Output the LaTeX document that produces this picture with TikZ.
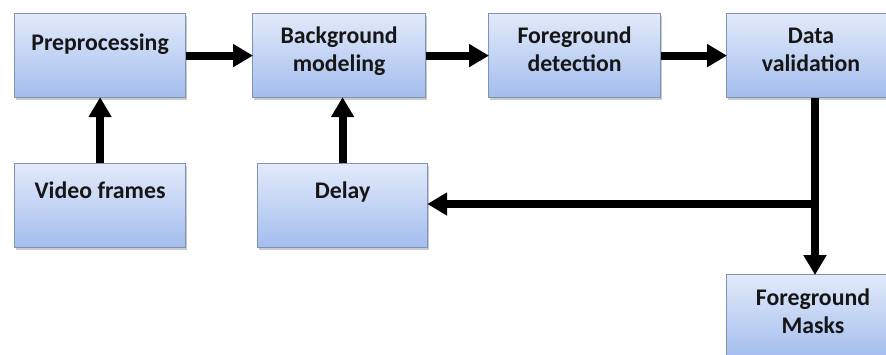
\documentclass[tikz,border=0pt]{standalone}
\usepackage{fontspec}
\setmainfont{Carlito}
\usetikzlibrary{arrows.meta,shadows,calc}
\definecolor{boxtop}{HTML}{E2EAFA}
\definecolor{boxbot}{HTML}{A3BDEE}
\definecolor{boxline}{HTML}{7F93B3}
\definecolor{txt}{HTML}{161616}
\tikzset{
  x=1pt, y=-1pt,
  stage/.style={draw=boxline, line width=1.2pt, top color=boxtop, bottom color=boxbot,
    minimum width=171pt, minimum height=84pt, inner sep=0pt, anchor=north west,
    drop shadow={opacity=0.35, shadow xshift=1pt, shadow yshift=-2pt, fill=black!60}},
  lbl/.style={anchor=base, inner sep=0pt, text=txt,
    font=\fontsize{23.8}{28}\selectfont\bfseries},
  flow/.style={line width=8pt, draw=black,
    -{Triangle[length=20pt, width=22pt]}, shorten >=-1pt},
}
\begin{document}
\begin{tikzpicture}
\clip (0,0) rectangle (886,354);
\useasboundingbox (0,0) rectangle (886,354);

% processing stages
\node[stage] (pre)   at (14,13)  {};
\node[stage, minimum width=173pt] (bg) at (252,13) {};
\node[stage, minimum width=172pt] (fd) at (488,13) {};
\node[stage, minimum width=190pt] (dv) at (726,13) {};
\node[stage] (video) at (14,163) {};
\node[stage, minimum width=170pt] (delay) at (257,163) {};
\node[stage, minimum width=190pt] (masks) at (726,274) {};

% stage labels
\node[lbl] (pre-l)    at ($(pre.north)+(0,37)$)    {Preprocessing};
\node[lbl] (bg-l1)    at ($(bg.north)+(0,30)$)     {Background};
\node[lbl] (bg-l2)    at ($(bg.north)+(0,58)$)     {modeling};
\node[lbl] (fd-l1)    at ($(fd.north)+(0,30)$)     {Foreground};
\node[lbl] (fd-l2)    at ($(fd.north)+(0,58)$)     {detection};
\node[lbl] (dv-l1)    at ($(dv.north west)+(85,30)$) {Data};
\node[lbl] (dv-l2)    at ($(dv.north west)+(85,58)$) {validation};
\node[lbl] (video-l)  at ($(video.north)+(0,35)$)  {Video frames};
\node[lbl] (delay-l)  at ($(delay.north)+(0,35)$)  {Delay};
\node[lbl] (masks-l1) at ($(masks.north west)+(87,31)$) {Foreground};
\node[lbl] (masks-l2) at ($(masks.north west)+(87,59)$) {Masks};

% data flow
\coordinate (split) at (815,204);
\draw[flow] (pre.east) -- (bg.west);
\draw[flow] (bg.east) -- (fd.west);
\draw[flow] (fd.east) -- (dv.west);
\draw[flow] (video.north) -- (pre.south);
\draw[flow] (delay.north) -- (delay.north |- bg.south);
\draw[line width=8pt] (dv.south -| split) -- ([yshift=-4pt]split);
\draw[flow] (split) -- (split |- masks.north);
\draw[flow] (split) -- (delay.east |- split);
\end{tikzpicture}
\end{document}
